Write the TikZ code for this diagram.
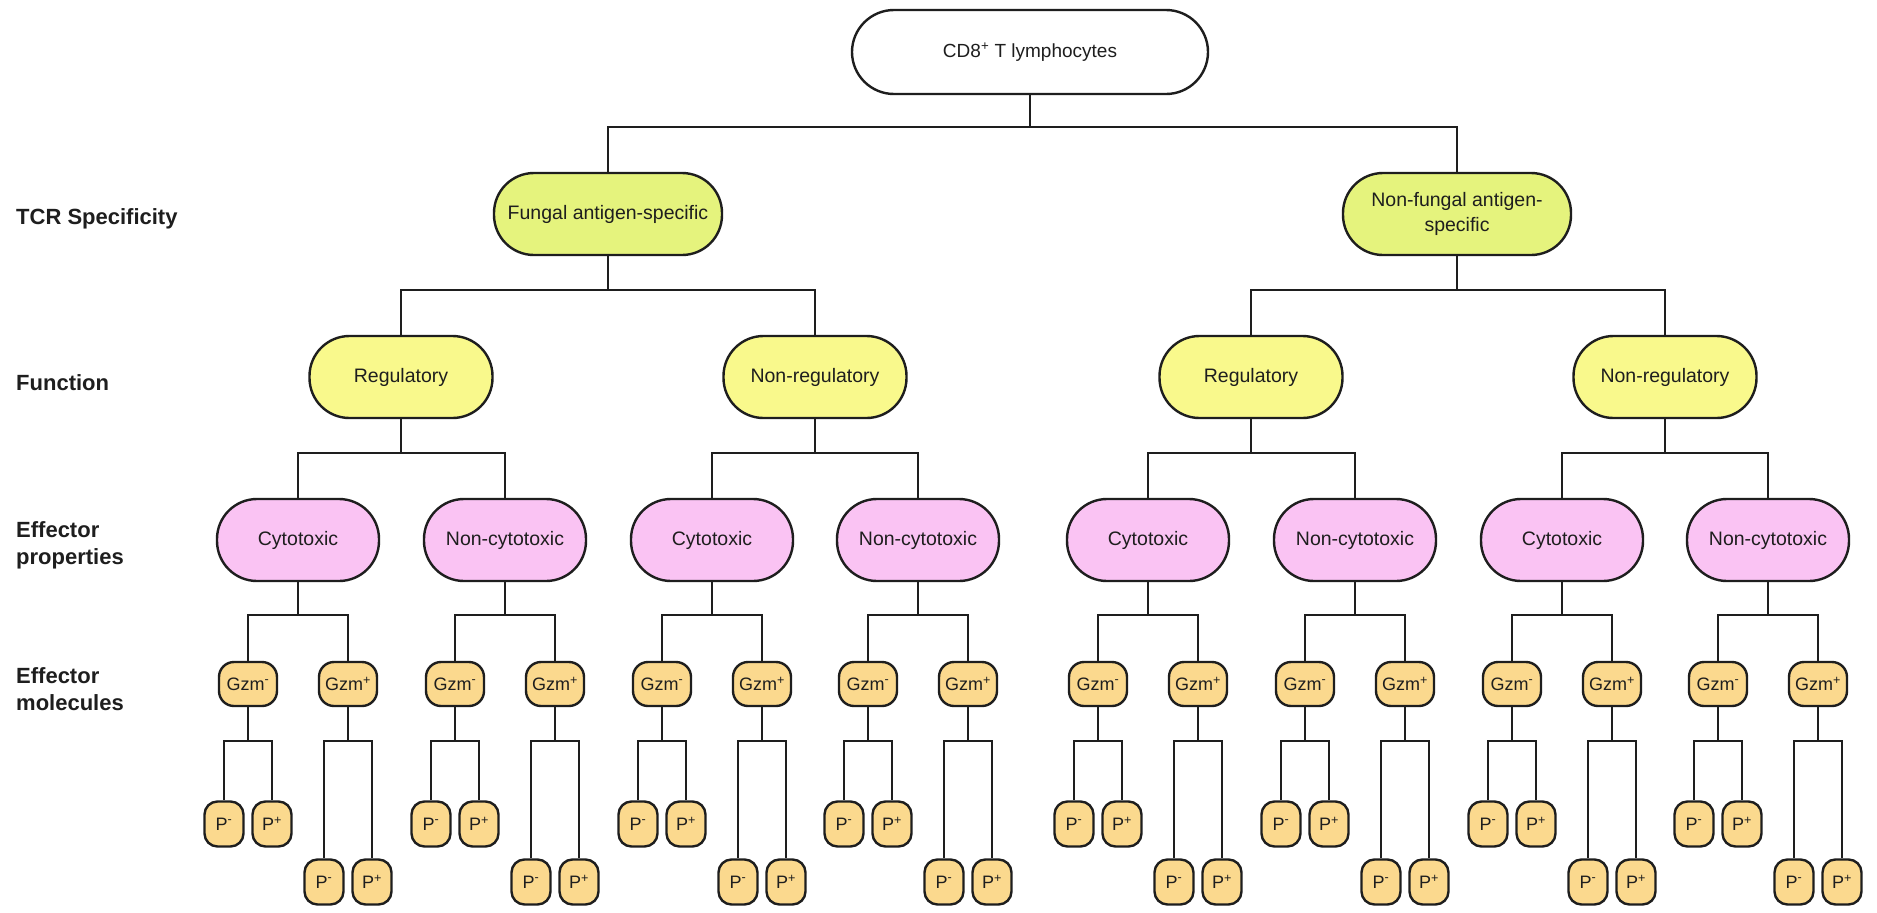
\documentclass[tikz,border=0pt]{standalone}
\usepackage{fontspec}
\setmainfont{Liberation Sans}
\definecolor{rootfill}{RGB}{255,255,255}
\definecolor{tcrfill}{RGB}{229,243,125}
\definecolor{funcfill}{RGB}{249,249,140}
\definecolor{efffill}{RGB}{250,195,243}
\definecolor{molfill}{RGB}{251,217,142}
\definecolor{ink}{RGB}{30,30,30}
\begin{document}
\begin{tikzpicture}[x=1pt,y=-1pt,
  base/.style={draw=ink, line width=2.4pt, inner sep=0pt, align=center, text=ink},
  rootbox/.style={base, fill=rootfill, rounded corners=42pt, minimum width=356pt, minimum height=84pt,
    font=\fontsize{19}{23}\selectfont},
  tcrbox/.style={base, fill=tcrfill, rounded corners=40pt, minimum width=228pt, minimum height=82pt,
    font=\fontsize{19.5}{25}\selectfont},
  funcbox/.style={base, fill=funcfill, rounded corners=40pt, minimum width=183pt, minimum height=82pt,
    font=\fontsize{19.5}{23}\selectfont},
  effbox/.style={base, fill=efffill, rounded corners=40pt, minimum width=162pt, minimum height=82pt,
    font=\fontsize{19.5}{23}\selectfont},
  gzmbox/.style={base, fill=molfill, rounded corners=15pt, minimum width=58pt, minimum height=44pt,
    font=\fontsize{18}{21}\selectfont},
  pbox/.style={base, fill=molfill, rounded corners=13pt, minimum width=39pt, minimum height=45pt,
    font=\fontsize{18}{21}\selectfont},
  rowlabel/.style={anchor=west, align=left, inner sep=0pt, text=ink,
    font=\fontsize{22}{27}\selectfont\bfseries},
  link/.style={draw=ink, line width=2.4pt}
]
\fill[white] (0,0) rectangle (1877,913);
\useasboundingbox (0,0) rectangle (1877,913);

% level names down the left margin
\node[rowlabel] (lblTCR)  at (16,219) {TCR Specificity};
\node[rowlabel] (lblFunc) at (16,383) {Function};
\node[rowlabel] (lblProp) at (16,545) {Effector\\properties};
\node[rowlabel] (lblMol)  at (16,689) {Effector\\molecules};

% top of the tree
\node[rootbox] (root) at (1030,52) {CD8\textsuperscript{+} T lymphocytes};
\node[tcrbox] (fung) at (608,214) {Fungal antigen-specific};
\node[tcrbox] (nonfung) at (1457,214) {Non-fungal antigen-\\specific};
\draw[link] (root.south) -- ++(0,32) -| (fung.north);
\draw[link] (root.south) -- ++(0,32) -| (nonfung.north);

% function
\node[funcbox] (regA) at (401,377) {Regulatory};
\node[funcbox] (nregA) at (815,377) {Non-regulatory};
\node[funcbox] (regB) at (1251,377) {Regulatory};
\node[funcbox] (nregB) at (1665,377) {Non-regulatory};
\draw[link] (fung.south) -- ++(0,34) -| (regA.north);
\draw[link] (fung.south) -- ++(0,34) -| (nregA.north);
\draw[link] (nonfung.south) -- ++(0,34) -| (regB.north);
\draw[link] (nonfung.south) -- ++(0,34) -| (nregB.north);

% effector properties, molecules and perforin status
\foreach \i/\x/\lab/\up in {1/298/Cytotoxic/regA, 2/505/Non-cytotoxic/regA,
                            3/712/Cytotoxic/nregA, 4/918/Non-cytotoxic/nregA,
                            5/1148/Cytotoxic/regB, 6/1355/Non-cytotoxic/regB,
                            7/1562/Cytotoxic/nregB, 8/1768/Non-cytotoxic/nregB} {
  \node[effbox] (eff\i) at (\x,540) {\lab};
  \draw[link] (\up.south) -- ++(0,34) -| (eff\i.north);

  \node[gzmbox] (gzmN\i) at (\x-50,684) {Gzm\textsuperscript{-}};
  \node[gzmbox] (gzmP\i) at (\x+50,684) {Gzm\textsuperscript{+}};
  \draw[link] (eff\i.south) -- ++(0,33) -| (gzmN\i.north);
  \draw[link] (eff\i.south) -- ++(0,33) -| (gzmP\i.north);

  \node[pbox] (pNN\i) at (\x-74,824) {P\textsuperscript{-}};
  \node[pbox] (pNP\i) at (\x-26,824) {P\textsuperscript{+}};
  \node[pbox] (pPN\i) at (\x+26,882) {P\textsuperscript{-}};
  \node[pbox] (pPP\i) at (\x+74,882) {P\textsuperscript{+}};
  \draw[link] (gzmN\i.south) -- ++(0,34) -| (pNN\i.north);
  \draw[link] (gzmN\i.south) -- ++(0,34) -| (pNP\i.north);
  \draw[link] (gzmP\i.south) -- ++(0,34) -| (pPN\i.north);
  \draw[link] (gzmP\i.south) -- ++(0,34) -| (pPP\i.north);
}
\end{tikzpicture}
\end{document}
